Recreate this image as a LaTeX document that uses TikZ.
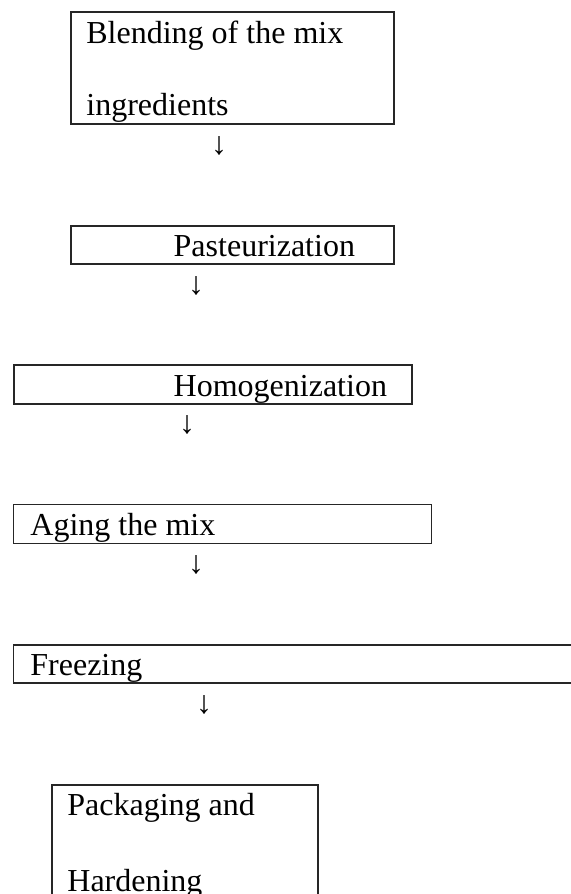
\documentclass[tikz,border=0pt]{standalone}
\usepackage{fontspec}
\setmainfont{Liberation Serif}
\usetikzlibrary{positioning}

\tikzset{
  stage/.style={draw=black!85, line width=0.65pt},
  lbl/.style={anchor=base west, inner sep=0pt, font=\fontsize{16}{19}\selectfont},
  down/.style={anchor=center, inner sep=0pt, font=\fontsize{16}{19}\selectfont}
}

\begin{document}
\begin{tikzpicture}[x=0.5pt,y=-0.5pt]
        \useasboundingbox (0,0) rectangle (571,894);
        \clip (0,0) rectangle (571,894);

        % boxes
        \draw[stage] (71,12) rectangle (394,124);
        \draw[stage] (71,226) rectangle (394,264);
        \draw[stage] (14,365) rectangle (412,404);
        \draw[stage] (13.5,504.5) rectangle (431.5,543.5);
        \draw[stage] (13.5,645) rectangle (580,683);
        \draw[stage] (52,785) rectangle (318,910);

        % labels
        \node[lbl] (blend1) at (86,43.3) {Blending of the mix};
        \node[lbl] (blend2) at (86,115.3) {ingredients};
        \node[lbl] (past) at (173.3,256.7) {Pasteurization};
        \node[lbl] (homo) at (173.3,396) {Homogenization};
        \node[lbl] (aging) at (30,535) {Aging the mix};
        \node[lbl] (freeze) at (30,675) {Freezing};
        \node[lbl] (pack1) at (67,815) {Packaging and};
        \node[lbl] (pack2) at (67,891.7) {Hardening};

        % arrows
        \node[down] (a1) at (219,145.5) {↓};
        \node[down] (a2) at (196,285.5) {↓};
        \node[down] (a3) at (187,425) {↓};
        \node[down] (a4) at (196,565) {↓};
        \node[down] (a5) at (204,704.5) {↓};
    \end{tikzpicture}
\end{document}
